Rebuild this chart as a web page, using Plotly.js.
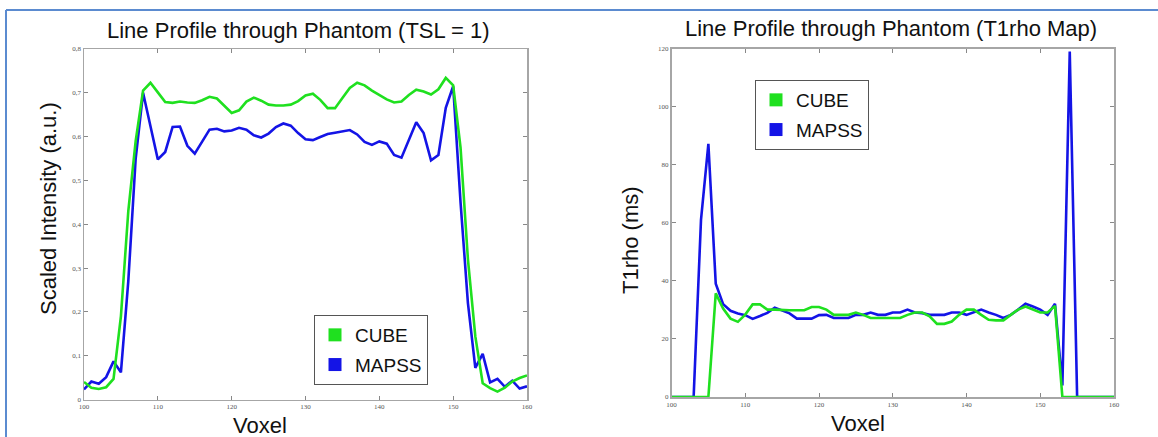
<!DOCTYPE html>
<html>
<head>
<meta charset="utf-8">
<script src="https://cdn.plot.ly/plotly-3.0.1.min.js"></script>
<style>html,body{margin:0;padding:0;background:#fff;}#chart{width:1158px;height:437px;}</style>
</head>
<body>
<div id="chart"></div>
<script>
// Voxel positions (shared by both panels)
const voxel = [100,101,102,103,104,105,106,107,108,109,110,111,112,113,114,115,116,117,118,119,120,
  121,122,123,124,125,126,127,128,129,130,131,132,133,134,135,136,137,138,139,140,
  141,142,143,144,145,146,147,148,149,150,151,152,153,154,155,156,157,158,159,160];

// Left panel: scaled intensity (TSL = 1)
const intensityCube = [0.040,0.027,0.024,0.028,0.047,0.190,0.430,0.590,0.705,0.723,0.701,
  0.679,0.677,0.680,0.678,0.677,0.683,0.691,0.687,0.670,0.654,
  0.660,0.680,0.689,0.682,0.673,0.671,0.671,0.673,0.681,0.694,
  0.698,0.684,0.665,0.665,0.688,0.711,0.723,0.717,0.705,0.695,
  0.685,0.678,0.680,0.695,0.707,0.703,0.696,0.708,0.734,0.717,
  0.575,0.320,0.144,0.037,0.026,0.018,0.027,0.041,0.049,0.055];
const intensityMapss = [0.023,0.041,0.036,0.051,0.087,0.062,0.270,0.550,0.700,0.625,0.548,
  0.565,0.622,0.623,0.579,0.561,0.588,0.616,0.618,0.612,0.614,
  0.620,0.616,0.603,0.598,0.607,0.622,0.630,0.625,0.608,0.594,
  0.592,0.599,0.606,0.609,0.612,0.615,0.605,0.588,0.581,0.589,
  0.584,0.558,0.552,0.594,0.633,0.608,0.546,0.558,0.666,0.715,
  0.450,0.220,0.072,0.104,0.039,0.047,0.029,0.043,0.025,0.030];

// Right panel: T1rho map (ms)
const t1rhoCube = [0,0,0,0,0,0,35.7,30.5,27.0,25.9,28.4,
  31.9,31.9,30.1,30.1,29.9,29.9,29.9,29.9,31.0,31.0,
  30.1,28.3,28.3,28.3,29.1,28.3,27.2,27.2,27.2,27.2,
  27.2,28.3,29.1,29.1,27.8,25.2,25.2,26.0,28.3,30.1,
  30.1,28.3,26.6,26.4,26.4,28.3,30.1,31.2,30.1,29.1,
  29.1,31.4,0,0,0,0,0,0,0,0];
const t1rhoMapss = [0,0,0,0,61.0,87.2,39.0,32.0,29.7,28.8,28.2,
  26.9,27.9,29.0,30.8,29.9,28.8,27.0,27.0,27.0,28.2,
  28.3,27.2,27.2,27.2,28.3,28.3,29.1,28.3,28.3,29.1,
  29.1,30.1,29.1,28.9,28.3,28.3,28.3,29.1,29.1,28.3,
  29.1,30.1,29.1,28.3,27.2,28.3,30.1,32.1,31.2,30.1,
  28.3,32.1,4,119,0,0,0,0,0,0];

// Tick labels
const xTickVals = [100,110,120,130,140,150,160];
const xTickText = ["100","110","120","130","140","150","160"];
const yLeftTickVals = [0,0.1,0.2,0.3,0.4,0.5,0.6,0.7,0.8];
const yLeftTickText = ["0","0,1","0,2","0,3","0,4","0,5","0,6","0,7","0,8"];
const yRightTickVals = [0,20,40,60,80,100,120];
const yRightTickText = ["0","20","40","60","80","100","120"];

const seriesNames = ["CUBE","MAPSS"];
const GREEN = "#1fe01f";
const BLUE = "#1414e6";

function lineTrace(x, y, name, color, xa, ya) {
  return {type:"scatter", mode:"lines", x:x, y:y, name:name, xaxis:xa, yaxis:ya,
    line:{color:color, width:2.6}, showlegend:false, hoverinfo:"x+y+name"};
}
function legendTrace(x, y, name, color, xa, ya, legendId) {
  return {type:"scatter", mode:"markers", x:x, y:y, name:name, xaxis:xa, yaxis:ya,
    legend:legendId, legendgroup:name + legendId,
    marker:{symbol:"square", size:13, color:color},
    selectedpoints:[], unselected:{marker:{opacity:0}},
    hoverinfo:"skip", showlegend:true};
}

const data = [
  lineTrace(voxel, intensityMapss, seriesNames[1], BLUE, "x", "y"),
  lineTrace(voxel, intensityCube, seriesNames[0], GREEN, "x", "y"),
  legendTrace(voxel, intensityCube, seriesNames[0], GREEN, "x", "y", "legend"),
  legendTrace(voxel, intensityMapss, seriesNames[1], BLUE, "x", "y", "legend"),
  lineTrace(voxel, t1rhoMapss, seriesNames[1], BLUE, "x2", "y2"),
  lineTrace(voxel, t1rhoCube, seriesNames[0], GREEN, "x2", "y2"),
  legendTrace(voxel, t1rhoCube, seriesNames[0], GREEN, "x2", "y2", "legend2"),
  legendTrace(voxel, t1rhoMapss, seriesNames[1], BLUE, "x2", "y2", "legend2")
];

const W = 1158, H = 437;
const tickFont = {family:"Liberation Serif, DejaVu Serif, serif", size:7, color:"#555"};
function axisStyle(extra) {
  return Object.assign({
    showline:true, linecolor:"#a6a6a6", linewidth:1.5, mirror:"ticks",
    ticks:"inside", ticklen:4, tickwidth:1, tickcolor:"#888",
    showgrid:false, zeroline:false, tickfont:tickFont, fixedrange:true
  }, extra);
}
const titleFont = {family:"Liberation Sans, Arial, sans-serif", size:22, color:"#111"};
const legendFont = {family:"Liberation Sans, Arial, sans-serif", size:19, color:"#111"};

const layout = {
  width:W, height:H,
  margin:{l:0, r:0, t:0, b:0},
  paper_bgcolor:"#ffffff", plot_bgcolor:"#ffffff",
  xaxis: axisStyle({domain:[84/W, 527/W], anchor:"y", range:[100,160], tickvals:xTickVals, ticktext:xTickText}),
  yaxis: axisStyle({domain:[1-399.5/H, 1-49/H], anchor:"x", range:[0,0.8], tickvals:yLeftTickVals, ticktext:yLeftTickText}),
  xaxis2: axisStyle({domain:[671.5/W, 1114/W], anchor:"y2", range:[100,160], tickvals:xTickVals, ticktext:xTickText}),
  yaxis2: axisStyle({domain:[1-397/H, 1-48.7/H], anchor:"x2", range:[0,120], tickvals:yRightTickVals, ticktext:yRightTickText}),
  legend: {x:314/W, y:1-315/H, xanchor:"left", yanchor:"top", bgcolor:"#ffffff",
    bordercolor:"#555", borderwidth:1, font:legendFont, itemwidth:30,
    traceorder:"grouped", tracegroupgap:2},
  legend2: {x:755/W, y:1-80/H, xanchor:"left", yanchor:"top", bgcolor:"#ffffff",
    bordercolor:"#555", borderwidth:1, font:legendFont, itemwidth:30,
    traceorder:"grouped", tracegroupgap:2},
  annotations: [
    {text:"Line Profile through Phantom (TSL = 1)", xref:"paper", yref:"paper", x:298/W, y:1-30/H,
      xanchor:"center", yanchor:"middle", showarrow:false, font:titleFont},
    {text:"Line Profile through Phantom (T1rho Map)", xref:"paper", yref:"paper", x:891/W, y:1-28/H,
      xanchor:"center", yanchor:"middle", showarrow:false, font:titleFont},
    {text:"Scaled Intensity (a.u.)", xref:"paper", yref:"paper", x:48/W, y:1-209/H,
      xanchor:"center", yanchor:"middle", textangle:-90, showarrow:false, font:titleFont},
    {text:"T1rho (ms)", xref:"paper", yref:"paper", x:630/W, y:1-240/H,
      xanchor:"center", yanchor:"middle", textangle:-90, showarrow:false, font:titleFont},
    {text:"Voxel", xref:"paper", yref:"paper", x:260/W, y:1-425/H,
      xanchor:"center", yanchor:"middle", showarrow:false, font:titleFont},
    {text:"Voxel", xref:"paper", yref:"paper", x:858/W, y:1-423/H,
      xanchor:"center", yanchor:"middle", showarrow:false, font:titleFont}
  ],
  shapes: [
    {type:"line", xref:"paper", yref:"paper", x0:6/W, x1:1, y0:1-10/H, y1:1-10/H,
      line:{color:"#5b8bd0", width:2}},
    {type:"line", xref:"paper", yref:"paper", x0:6/W, x1:6/W, y0:1-10/H, y1:0,
      line:{color:"#5b8bd0", width:2}}
  ]
};

Plotly.newPlot("chart", data, layout, {displayModeBar:false, staticPlot:true});
</script>
</body>
</html>
